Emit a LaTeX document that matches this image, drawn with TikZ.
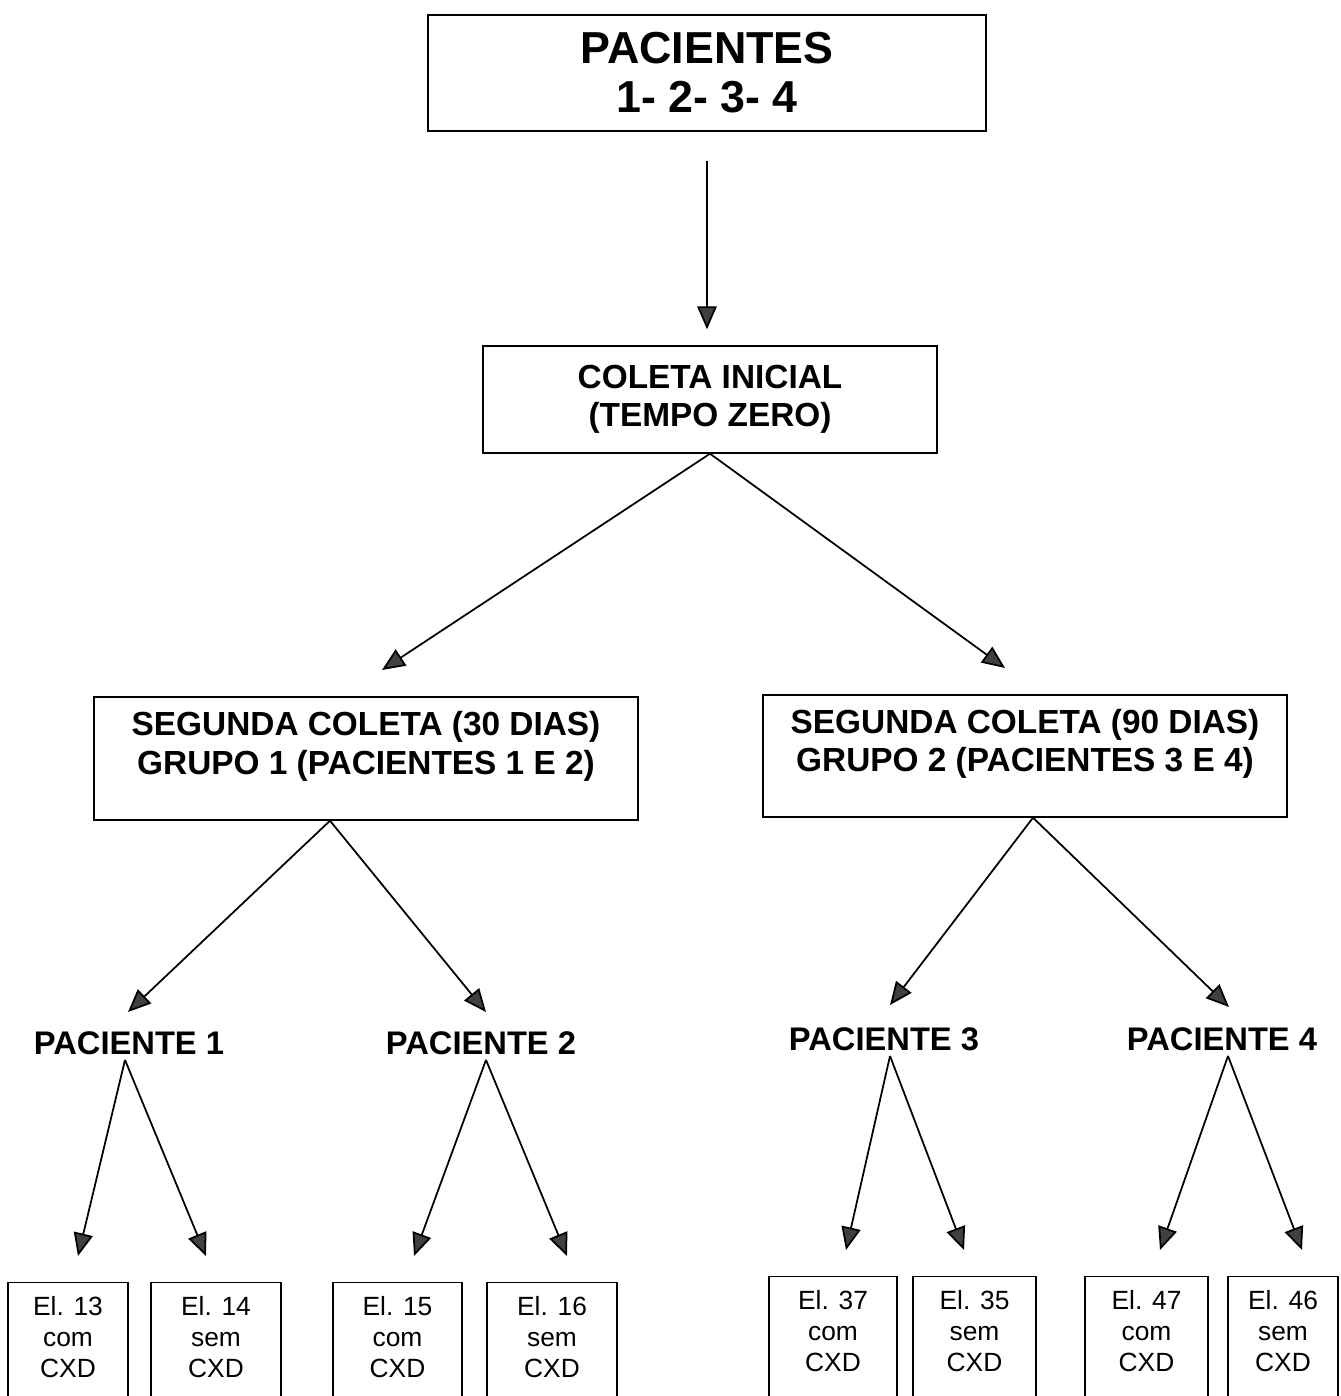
\documentclass[tikz,border=0pt]{standalone}
\usepackage{fontspec}
\setmainfont{Liberation Sans}
\usetikzlibrary{arrows.meta,calc}

\begin{document}
\begin{tikzpicture}[
  x=0.02cm, y=-0.02cm,
  topbox/.style={draw, line width=0.8pt, align=center, inner sep=0pt,
                 font=\fontsize{25.5}{28}\selectfont\bfseries},
  midbox/.style={draw, line width=0.8pt, align=center, inner sep=0pt,
                 font=\fontsize{19}{21.8}\selectfont\bfseries},
  paclbl/.style={inner sep=0.1cm, font=\fontsize{18.6}{22}\selectfont\bfseries},
  elbox/.style={draw, line width=0.8pt, align=center, anchor=north,
                inner xsep=0pt, inner ysep=0.28cm,
                font=\fontsize{15}{17.6}\selectfont},
  arr/.style={-{Triangle[length=13pt,width=11pt,fill=black!75]}, line width=1pt}
]
\useasboundingbox (0,0) rectangle (1340,1396);

\node[topbox, minimum width=11.16cm, minimum height=2.32cm] (pac) at (707,73)
   {PACIENTES\\1- 2- 3- 4};
\node[midbox, minimum width=9.08cm, minimum height=2.14cm] (ini) at (710,399.5)
   {COLETA INICIAL\\(TEMPO ZERO)};
\node[midbox, minimum width=10.88cm, minimum height=2.46cm] (grp1) at (366,758.5)
   {SEGUNDA COLETA (30 DIAS)\\GRUPO 1 (PACIENTES 1 E 2)\\[-4pt]\mbox{}};
\node[midbox, minimum width=10.48cm, minimum height=2.44cm] (grp2) at (1025,756)
   {SEGUNDA COLETA (90 DIAS)\\GRUPO 2 (PACIENTES 3 E 4)\\[-4pt]\mbox{}};

\node[paclbl] (p1) at (129,1043) {PACIENTE 1};
\node[paclbl] (p2) at (481,1043) {PACIENTE 2};
\node[paclbl] (p3) at (884,1039) {PACIENTE 3};
\node[paclbl] (p4) at (1222,1039) {PACIENTE 4};

% bottom boxes run off the page
\node[elbox, minimum width=2.4cm] (e13) at (68,1282) {El. 13\\com\\CXD\\[0pt]\mbox{}};
\node[elbox, minimum width=2.6cm] (e14) at (216,1282) {El. 14\\sem\\CXD\\[0pt]\mbox{}};
\node[elbox, minimum width=2.58cm] (e15) at (397.5,1282) {El. 15\\com\\CXD\\[0pt]\mbox{}};
\node[elbox, minimum width=2.6cm] (e16) at (552,1282) {El. 16\\sem\\CXD\\[0pt]\mbox{}};
\node[elbox, minimum width=2.56cm] (e37) at (833,1276) {El. 37\\com\\CXD\\[0pt]\mbox{}};
\node[elbox, minimum width=2.46cm] (e35) at (974.5,1276) {El. 35\\sem\\CXD\\[0pt]\mbox{}};
\node[elbox, minimum width=2.46cm] (e47) at (1146.5,1276) {El. 47\\com\\CXD\\[0pt]\mbox{}};
\node[elbox, minimum width=2.2cm] (e46) at (1283,1276) {El. 46\\sem\\CXD\\[0pt]\mbox{}};

% arrow tips
\coordinate (gin1) at (382,670);
\coordinate (gin2) at (1005,668);
\coordinate (pin1) at (128,1012);
\coordinate (pin2) at (486,1012);
\coordinate (pin3) at (890,1005);
\coordinate (pin4) at (1229,1007);
\coordinate (ein13) at (78,1256);
\coordinate (ein14) at (206,1256);
\coordinate (ein15) at (414,1256);
\coordinate (ein16) at (567,1256);
\coordinate (ein37) at (846,1250);
\coordinate (ein35) at (964,1250);
\coordinate (ein47) at (1160,1250);
\coordinate (ein46) at (1302,1250);

\draw[arr, shorten <=0.58cm, shorten >=0.32cm] (pac.south) -- (pac.south |- ini.north);
\draw[arr] (ini.south) -- (gin1);
\draw[arr] (ini.south) -- (gin2);
\draw[arr] ($(grp1.south)+(-36,0)$) -- (pin1);
\draw[arr] ($(grp1.south)+(-36,0)$) -- (pin2);
\draw[arr] ($(grp2.south)+(8,0)$) -- (pin3);
\draw[arr] ($(grp2.south)+(8,0)$) -- (pin4);
\draw[arr] ($(p1.south)+(-4,0)$) -- (ein13);
\draw[arr] ($(p1.south)+(-4,0)$) -- (ein14);
\draw[arr] ($(p2.south)+(5,0)$) -- (ein15);
\draw[arr] ($(p2.south)+(5,0)$) -- (ein16);
\draw[arr] ($(p3.south)+(6,0)$) -- (ein37);
\draw[arr] ($(p3.south)+(6,0)$) -- (ein35);
\draw[arr] ($(p4.south)+(6,0)$) -- (ein47);
\draw[arr] ($(p4.south)+(6,0)$) -- (ein46);
\end{tikzpicture}
\end{document}
